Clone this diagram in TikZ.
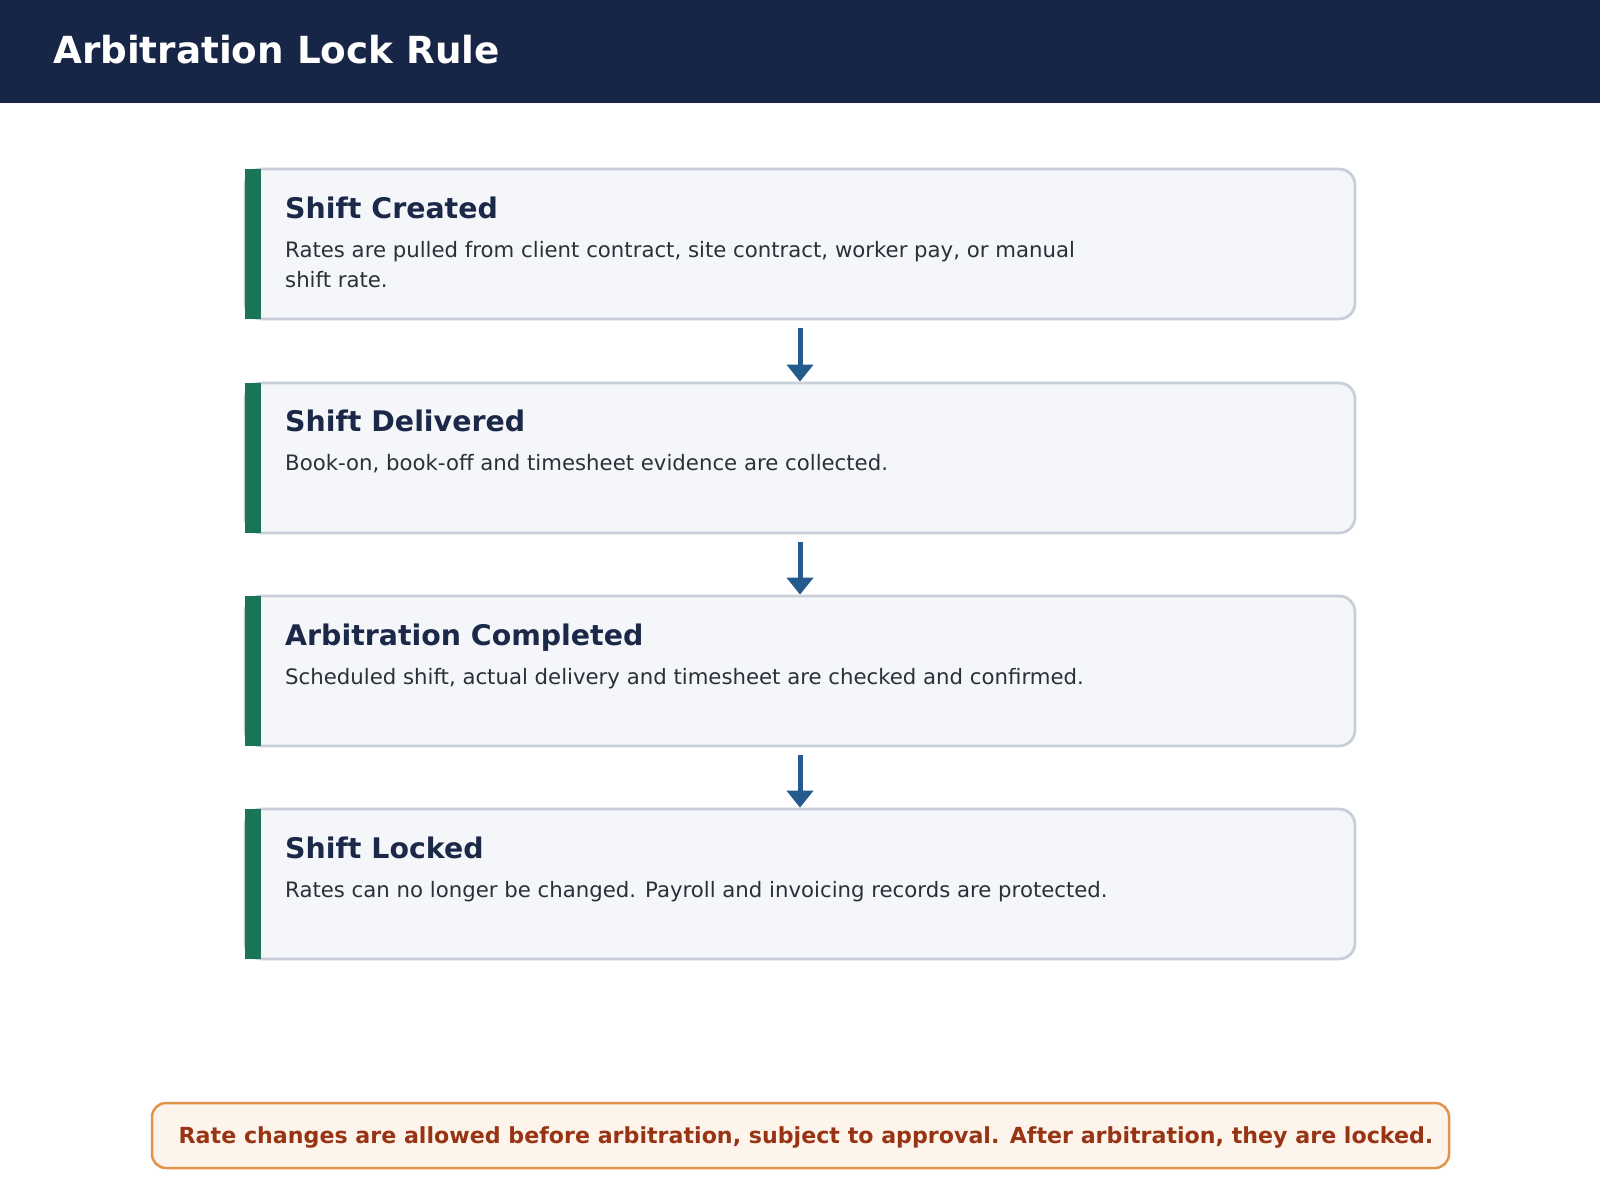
\documentclass[tikz,border=0pt]{standalone}
\usepackage{fontspec}
\setmainfont{DejaVu Sans}
\usetikzlibrary{arrows.meta}
\definecolor{navy}{HTML}{172546}
\definecolor{titlec}{HTML}{1B2847}
\definecolor{descc}{HTML}{2B2F38}
\definecolor{greenbar}{HTML}{187656}
\definecolor{boxfill}{HTML}{F4F6FA}
\definecolor{boxline}{HTML}{C9CFD9}
\definecolor{arrowc}{HTML}{245A8C}
\definecolor{notefill}{HTML}{FDF5EC}
\definecolor{noteline}{HTML}{E2924A}
\definecolor{notetext}{HTML}{983414}
\tikzset{
  stepbox/.style={draw=boxline, line width=2.8pt, fill=boxfill, rounded corners=16pt,
    minimum width=1110pt, minimum height=150pt, inner sep=0pt},
  steptitle/.style={anchor=base west, text=titlec, font=\fontsize{28.4}{34}\selectfont\bfseries, inner sep=0pt},
  stepdesc/.style={anchor=base west, text=descc, font=\fontsize{21.25}{30}\selectfont, inner sep=0pt, align=left},
  flow/.style={draw=arrowc, line width=5pt, -{Triangle[width=26pt,length=17pt]}},
}
\begin{document}
\begin{tikzpicture}[x=1pt,y=-1pt]
\useasboundingbox (0,0) rectangle (1600,1200);
\fill[white] (0,0) rectangle (1600,1200);
\fill[navy] (0,0) rectangle (1600,103);
\node[anchor=base west, text=white, font=\fontsize{37.3}{45}\selectfont\bfseries, inner sep=0pt] (title) at (53,63) {Arbitration Lock Rule};

% boxes
\foreach \i/\y in {1/244, 2/458, 3/671, 4/884} {
  \node[stepbox] (b\i) at (800,\y) {};
  \fill[greenbar] (245,\y-75) rectangle (261,\y+75);
}
\node[steptitle] (t1) at (285,218) {Shift Created};
\node[stepdesc] (d1) at (285,287) {Rates are pulled from client contract, site contract, worker pay, or manual\\shift rate.};
\node[steptitle] (t2) at (285,431) {Shift Delivered};
\node[stepdesc] (d2) at (285,470) {Book-on, book-off and timesheet evidence are collected.};
\node[steptitle] (t3) at (285,645) {Arbitration Completed};
\node[stepdesc] (d3) at (285,684) {Scheduled shift, actual delivery and timesheet are checked and confirmed.};
\node[steptitle] (t4) at (285,858) {Shift Locked};
\node[stepdesc] (d4) at (285,897) {Rates can no longer be changed. Payroll and invoicing records are protected.};

\draw[flow] ([yshift=-8pt]b1.south) -- (b2.north);
\draw[flow] ([yshift=-8pt]b2.south) -- (b3.north);
\draw[flow] ([yshift=-8pt]b3.south) -- (b4.north);

% note
\node[draw=noteline, line width=2.5pt, fill=notefill, rounded corners=14pt,
  minimum width=1297pt, minimum height=65pt, inner sep=0pt] (note) at (800.5,1135.5) {};
\node[anchor=base, text=notetext, font=\fontsize{22.15}{26}\selectfont\bfseries, inner sep=0pt] (notetxt) at (806,1143) {Rate changes are allowed before arbitration, subject to approval. After arbitration, they are locked.};
\end{tikzpicture}
\end{document}
